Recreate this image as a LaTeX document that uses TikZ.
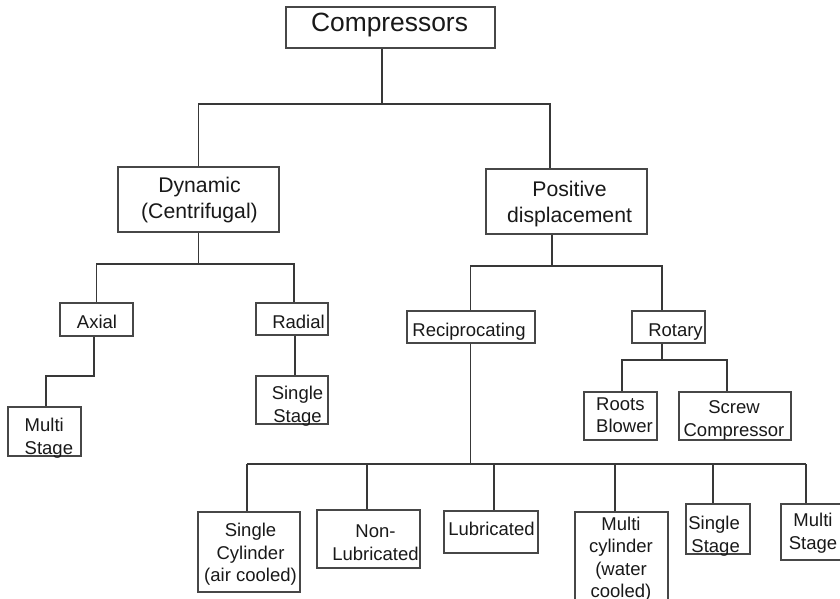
\documentclass[tikz,border=0pt]{standalone}
\usepackage{fontspec}
\setmainfont{Liberation Sans}
\begin{document}
\begin{tikzpicture}[x=1pt,y=-1pt,
  box/.style={draw=black!72,line width=1.1pt,inner sep=0pt,rectangle},
  txt/.style={inner sep=0pt,align=center,text=black!90,font=\fontsize{18.5}{22.5}\selectfont},
  big/.style={txt,font=\fontsize{21.2}{25.5}\selectfont},
  huge/.style={txt,font=\fontsize{26.4}{30}\selectfont},
  conn/.style={draw=black!78,line width=1.1pt}]
\clip (0,0) rectangle (840,599);
\fill[white] (0,0) rectangle (840,599);
% boxes
\node[box,minimum width=209pt,minimum height=41pt] (comp) at (390.5,27.5) {};
\node[box,minimum width=161pt,minimum height=65pt] (dyn) at (198.5,199.5) {};
\node[box,minimum width=161pt,minimum height=65pt] (pos) at (566.5,201.5) {};
\node[box,minimum width=73pt,minimum height=33pt] (axial) at (96.5,319.5) {};
\node[box,minimum width=72pt,minimum height=32pt] (radial) at (292,319) {};
\node[box,minimum width=72pt,minimum height=48pt] (ss1) at (292,400) {};
\node[box,minimum width=73pt,minimum height=49pt] (ms1) at (44.5,431.5) {};
\node[box,minimum width=128pt,minimum height=32pt] (recip) at (471,327) {};
\node[box,minimum width=73pt,minimum height=32pt] (rotary) at (668.5,327) {};
\node[box,minimum width=73pt,minimum height=48pt] (roots) at (620.5,416) {};
\node[box,minimum width=112pt,minimum height=48pt] (screw) at (735,416) {};
\node[box,minimum width=102pt,minimum height=80pt] (sc) at (249,552) {};
\node[box,minimum width=103pt,minimum height=58pt] (nonlub) at (368.5,539) {};
\node[box,minimum width=94pt,minimum height=42pt] (lub) at (491,532) {};
\node[box,minimum width=93pt,minimum height=98pt] (mc) at (621.5,561) {};
\node[box,minimum width=64pt,minimum height=50pt] (ss2) at (718,529) {};
\node[box,minimum width=69pt,minimum height=56pt] (ms2) at (815.5,532) {};
% texts
\node[huge,anchor=north] (comp-t) at (389.5,13.3) {Compressors};
\node[big,anchor=north] (dyn-t) at (199.5,177.3) {Dynamic\\(Centrifugal)};
\node[big,anchor=north] (pos-t) at (569.5,181) {Positive\\displacement};
\node[txt,anchor=north] (axial-t) at (97,315) {Axial};
\node[txt,anchor=north] (radial-t) at (298.5,315) {Radial};
\node[txt,anchor=north] (ss1-t) at (297.5,386) {Single\\Stage};
\node[txt,anchor=north west,align=left] (ms1-t) at (24.5,418.3) {Multi\\Stage};
\node[txt,anchor=north] (recip-t) at (469,322.7) {Reciprocating};
\node[txt,anchor=north] (rotary-t) at (675.5,323.3) {Rotary};
\node[txt,anchor=north west,align=left] (roots-t) at (596,397.3) {Roots\\Blower};
\node[txt,anchor=north] (screw-t) at (734,400.7) {Screw\\Compressor};
\node[txt,anchor=north] (sc-t) at (250.5,523.3) {Single\\Cylinder\\(air cooled)};
\node[txt,anchor=north] (nonlub-t) at (375.5,525) {Non-\\Lubricated};
\node[txt,anchor=north] (lub-t) at (491.5,521.7) {Lubricated};
\node[txt,anchor=north] (mc-t) at (621,516.7) {Multi\\cylinder\\(water\\cooled)};
\node[txt,anchor=north east,align=right] (ss2-t) at (740,516) {Single\\Stage};
\node[txt,anchor=north] (ms2-t) at (813,513.3) {Multi\\Stage};
% junction coordinates
\coordinate (j0) at (382,104);
\coordinate (b1) at (550,104);
\coordinate (d1) at (294,264);
\coordinate (a1) at (94,376);
\coordinate (a2) at (46,376);
\coordinate (r1) at (295,350);
\coordinate (p1) at (552,266);
\coordinate (p0) at (470.5,266);
\coordinate (p2) at (662,266);
\coordinate (q0) at (662,360);
\coordinate (q1) at (622,360);
\coordinate (q2) at (727,360);
\coordinate (r0) at (470.5,464);
\coordinate (c1) at (247,464);
\coordinate (c2) at (367,464);
\coordinate (c3) at (494,464);
\coordinate (c4) at (615,464);
\coordinate (c5) at (713,464);
\coordinate (c6) at (806,464);
% connectors
\draw[conn] (comp.south -| j0) -- (j0);
\draw[conn] (dyn.north) |- (b1) -- (pos.north -| b1);
\draw[conn] (dyn.south) -- (dyn.south |- d1);
\draw[conn] (axial.north) |- (d1) -- (radial.north -| d1);
\draw[conn] (axial.south -| a1) -- (a1) -- (a2) -- (ms1.north -| a2);
\draw[conn] (radial.south -| r1) -- (ss1.north -| r1);
\draw[conn] (pos.south -| p1) -- (p1);
\draw[conn] (recip.north -| p0) -- (p0) -- (p2) -- (rotary.north -| p2);
\draw[conn] (rotary.south -| q0) -- (q0);
\draw[conn] (roots.north -| q1) -- (q1) -- (q2) -- (screw.north -| q2);
\draw[conn] (recip.south -| r0) -- (r0);
\draw[conn] (c1) -- (c6);
\draw[conn] (c1) -- (sc.north -| c1);
\draw[conn] (c2) -- (nonlub.north -| c2);
\draw[conn] (c3) -- (lub.north -| c3);
\draw[conn] (c4) -- (mc.north -| c4);
\draw[conn] (c5) -- (ss2.north -| c5);
\draw[conn] (c6) -- (ms2.north -| c6);
\end{tikzpicture}
\end{document}
